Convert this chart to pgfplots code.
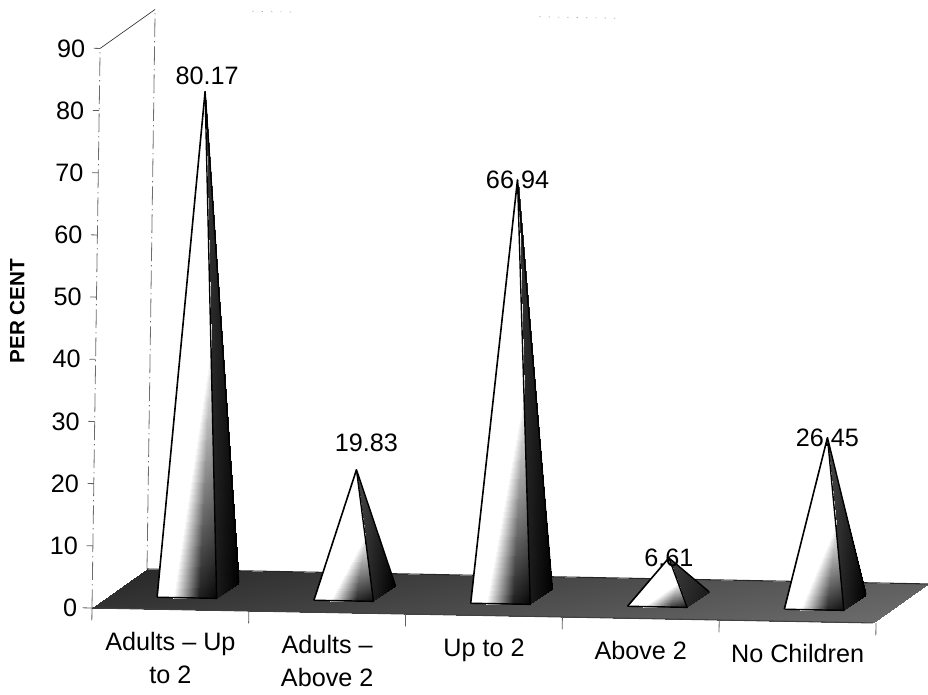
\documentclass[border=0pt]{standalone}
\usepackage{pgfplots}
\pgfplotsset{compat=1.18}
\usepackage{fontspec}
\setmainfont{Liberation Sans}
\newcommand{\lab}{\fontsize{18.9}{24.75}\selectfont}
\pgfplotsset{
  face/.style={patch, patch type=triangle, shader=interp, point meta=explicit},
  edge/.style={black, line width=1.2pt, line join=round, forget plot},
  rim/.style={black, line width=1.05pt, line join=round, forget plot},
}
\tikzset{lbl/.style={inner sep=0pt, font=\lab, text=black}}
\begin{document}
\begin{tikzpicture}
\path[use as bounding box] (0,0) rectangle (696pt,521.25pt);
\begin{axis}[
  at={(69pt,65.25pt)}, anchor=origin,
  x={(117.6pt,-2.25pt)}, y={(41.25pt,29.25pt)}, z={(0.0675pt,4.663pt)},
  xmin=0, xmax=5, ymin=0, ymax=1, zmin=0, zmax=90,
  hide axis, clip=false, unbounded coords=jump,
  colormap/blackwhite, point meta min=0, point meta max=1,
]
% walls
\addplot3[gray!85!black, line width=0.6pt, dash pattern=on 14pt off 3pt on 1pt off 3pt] coordinates {(0,0,0) (0,0,90)};
\addplot3[gray!85!black, line width=0.6pt, dash pattern=on 14pt off 3pt on 1pt off 3pt] coordinates {(0,1,0) (0,1,90)};
\addplot3[black!80, line width=0.5pt] coordinates {(0,0,90) (0,1,90)};
\addplot3[gray!70, line width=0.5pt, dash pattern=on 1pt off 6pt] coordinates {(0.62,1,90) (0.9,1,90) (nan,1,90) (2.45,1,90) (2.95,1,90)};
% floor
\addplot3[patch, patch type=rectangle, shader=interp, point meta=explicit]
  table[x=x,y=y,z=z,meta=c] {
x y z c
0 0 0 0.20
4.98 0 0 0.42
4.98 1 0 0.38
0 1 0 0.16
};
\addplot3[black!85, line width=0.8pt] coordinates {(0,1,0) (4.98,1,0)};
\addplot3[black!75, line width=0.8pt] coordinates {(0,0,0) (4.98,0,0)};
% axis ticks
\addplot3[gray!75!black, line width=0.6pt] coordinates {
 (0,0,0) (0,0,-2) (nan,0,0) (1,0,0) (1,0,-2) (nan,0,0) (2,0,0) (2,0,-2) (nan,0,0)
 (3,0,0) (3,0,-2) (nan,0,0) (4,0,0) (4,0,-2) (nan,0,0) (5,0,0) (5,0,-2)};
\addplot3[gray!75!black, line width=0.6pt] coordinates {
 (-0.06,0,0) (0,0,0) (nan,0,0) (-0.04,0,10) (0,0,10) (nan,0,0) (-0.04,0,20) (0,0,20) (nan,0,0)
 (-0.04,0,30) (0,0,30) (nan,0,0) (-0.04,0,40) (0,0,40) (nan,0,0) (-0.04,0,50) (0,0,50) (nan,0,0)
 (-0.04,0,60) (0,0,60) (nan,0,0) (-0.04,0,70) (0,0,70) (nan,0,0) (-0.04,0,80) (0,0,80) (nan,0,0)
 (-0.04,0,90) (0,0,90)};
% Adults - Up to 2
\addplot3[face] table[x=x,y=y,z=z,meta=c] {
x y z c
0.5 0.5 80.17 1
0.31 0.3 0 1
0.595 0.4 40.085 1
0.31 0.3 0 1
0.41 0.3 0 1
0.595 0.4 40.085 1
0.41 0.3 0 1
0.58 0.3 0 0.12
0.595 0.4 40.085 1
0.58 0.3 0 0.12
0.69 0.3 0 0.02
0.595 0.4 40.085 1
0.5 0.5 80.17 0.22
0.69 0.3 0 0.1
0.69 0.7 0 0.0
};
\addplot3[edge] coordinates {(0.31,0.3,0) (0.5,0.5,80.17)};
\addplot3[rim] coordinates {(0.69,0.7,0) (0.5,0.5,80.17) (0.69,0.3,0) (0.31,0.3,0)};
% Adults - Above 2
\addplot3[face] table[x=x,y=y,z=z,meta=c] {
x y z c
1.5 0.5 19.83 1
1.31 0.3 0 1
1.595 0.4 9.915 1
1.31 0.3 0 1
1.41 0.3 0 1
1.595 0.4 9.915 1
1.41 0.3 0 1
1.58 0.3 0 0.15
1.595 0.4 9.915 1
1.58 0.3 0 0.15
1.69 0.3 0 0.05
1.595 0.4 9.915 1
1.5 0.5 19.83 0.3
1.69 0.3 0 0.12
1.69 0.7 0 0.0
};
\addplot3[edge] coordinates {(1.31,0.3,0) (1.5,0.5,19.83)};
\addplot3[rim] coordinates {(1.69,0.7,0) (1.5,0.5,19.83) (1.69,0.3,0) (1.31,0.3,0)};
% Up to 2
\addplot3[face] table[x=x,y=y,z=z,meta=c] {
x y z c
2.5 0.5 66.94 1
2.31 0.3 0 1
2.595 0.4 33.47 1
2.31 0.3 0 1
2.41 0.3 0 1
2.595 0.4 33.47 1
2.41 0.3 0 1
2.58 0.3 0 0.12
2.595 0.4 33.47 1
2.58 0.3 0 0.12
2.69 0.3 0 0.02
2.595 0.4 33.47 1
2.5 0.5 66.94 0.22
2.69 0.3 0 0.1
2.69 0.7 0 0.0
};
\addplot3[edge] coordinates {(2.31,0.3,0) (2.5,0.5,66.94)};
\addplot3[rim] coordinates {(2.69,0.7,0) (2.5,0.5,66.94) (2.69,0.3,0) (2.31,0.3,0)};
% Above 2
\addplot3[face] table[x=x,y=y,z=z,meta=c] {
x y z c
3.5 0.5 6.61 1
3.31 0.3 0 1
3.595 0.4 3.305 1
3.31 0.3 0 1
3.41 0.3 0 1
3.595 0.4 3.305 1
3.41 0.3 0 1
3.58 0.3 0 0.25
3.595 0.4 3.305 1
3.58 0.3 0 0.25
3.69 0.3 0 0.08
3.595 0.4 3.305 1
3.5 0.5 6.61 0.25
3.69 0.3 0 0.15
3.69 0.7 0 0.1
};
\addplot3[edge] coordinates {(3.31,0.3,0) (3.5,0.5,6.61)};
\addplot3[rim] coordinates {(3.69,0.7,0) (3.5,0.5,6.61) (3.69,0.3,0) (3.31,0.3,0)};
% No Children
\addplot3[face] table[x=x,y=y,z=z,meta=c] {
x y z c
4.5 0.5 26.45 1
4.31 0.3 0 1
4.595 0.4 13.225 1
4.31 0.3 0 1
4.41 0.3 0 1
4.595 0.4 13.225 1
4.41 0.3 0 1
4.58 0.3 0 0.15
4.595 0.4 13.225 1
4.58 0.3 0 0.15
4.69 0.3 0 0.05
4.595 0.4 13.225 1
4.5 0.5 26.45 0.3
4.69 0.3 0 0.12
4.69 0.7 0 0.0
};
\addplot3[edge] coordinates {(4.31,0.3,0) (4.5,0.5,26.45)};
\addplot3[rim] coordinates {(4.69,0.7,0) (4.5,0.5,26.45) (4.69,0.3,0) (4.31,0.3,0)};
% value labels
\node[lbl, xshift=1.5pt, yshift=12pt] at (axis cs:0.5,0.5,80.17) {80.17};
\node[lbl, xshift=7.5pt, yshift=20pt] at (axis cs:1.5,0.5,19.83) {19.83};
\node[lbl] at (axis cs:2.5,0.5,66.94) {66.94};
\node[lbl] at (axis cs:3.5,0.5,6.61) {6.61};
\node[lbl] at (axis cs:4.5,0.5,26.45) {26.45};
% tick labels
\node[lbl, anchor=east, xshift=-11pt] at (axis cs:0,0,0) {0};
\node[lbl, anchor=east, xshift=-11pt] at (axis cs:0,0,10) {10};
\node[lbl, anchor=east, xshift=-11pt] at (axis cs:0,0,20) {20};
\node[lbl, anchor=east, xshift=-11pt] at (axis cs:0,0,30) {30};
\node[lbl, anchor=east, xshift=-11pt] at (axis cs:0,0,40) {40};
\node[lbl, anchor=east, xshift=-11pt] at (axis cs:0,0,50) {50};
\node[lbl, anchor=east, xshift=-11pt] at (axis cs:0,0,60) {60};
\node[lbl, anchor=east, xshift=-11pt] at (axis cs:0,0,70) {70};
\node[lbl, anchor=east, xshift=-11pt] at (axis cs:0,0,80) {80};
\node[lbl, anchor=east, xshift=-11pt] at (axis cs:0,0,90) {90};
\node[lbl, anchor=north, yshift=-17pt, align=center] at (axis cs:0.5,0,0) {Adults -- Up\\to 2};
\node[lbl, anchor=north, yshift=-17pt, align=center] at (axis cs:1.5,0,0) {Adults --\\Above 2};
\node[lbl, anchor=north, yshift=-17pt] at (axis cs:2.5,0,0) {Up to 2};
\node[lbl, anchor=north, yshift=-17pt] at (axis cs:3.5,0,0) {Above 2};
\node[lbl, anchor=north, yshift=-17pt] at (axis cs:4.5,0,0) {No Children};
\end{axis}
\node[rotate=90, font=\fontsize{15.5}{18}\selectfont\bfseries, inner sep=0pt] at (13pt,288pt) {PER CENT};
\end{tikzpicture}
\end{document}
